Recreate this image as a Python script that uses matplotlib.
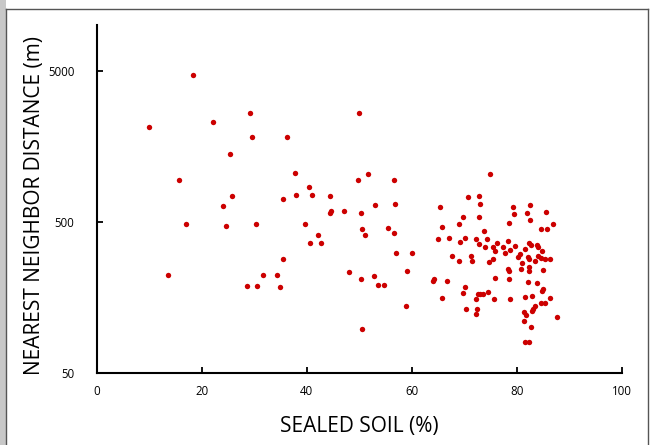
import numpy as np
import matplotlib
matplotlib.use('Agg')
import matplotlib.pyplot as plt
from matplotlib.lines import Line2D
from matplotlib.patches import Rectangle

# values: sealed soil (%) and nearest neighbour distance (m)
sealed = [10.0, 18.3, 22.2, 29.2, 29.5, 36.3, 25.4, 15.6, 37.7, 25.8,
          37.9, 35.4, 24.1, 17.1, 24.6, 30.4, 35.4, 13.6, 31.6, 34.4,
          28.6, 30.6, 34.9,
          50.0, 51.7, 49.7, 56.7, 40.4, 41.1, 44.4, 44.6, 44.5, 47.2,
          50.3, 53.1, 56.9, 39.6, 42.1, 50.6, 51.2, 55.5, 56.6, 40.7,
          42.8, 57.0, 60.1, 48.1, 50.3, 52.8, 53.5, 54.8, 59.2, 58.9,
          50.6,
          65.3, 65.8, 65.0, 67.2, 67.6, 69.1, 64.2, 64.0, 66.8, 65.8,
          69.1, 69.7, 70.7, 72.8, 73.1, 72.8, 74.9, 70.2, 69.2, 72.2,
          72.8, 73.8, 74.3, 73.9, 76.3, 75.4, 75.8, 77.4, 78.4, 77.8,
          78.8, 79.6, 78.6, 79.3, 79.4, 82.5, 82.0, 82.5, 85.5, 86.9,
          84.6, 85.8, 81.6, 82.3, 82.7, 83.9, 84.1, 84.8, 80.7, 80.3,
          82.2, 82.3, 84.0, 83.5, 84.7, 85.4, 86.3, 81.0, 71.3, 71.4,
          75.5, 74.7, 78.4, 78.6, 80.8, 82.4, 82.3, 85.1, 75.9, 78.6,
          82.2, 83.9, 70.1, 69.8, 72.7, 73.1, 73.5, 74.5, 72.2, 75.7,
          78.8, 81.6, 83.0, 85.0, 84.8, 86.4, 84.7, 85.4, 70.4, 72.5,
          72.3, 83.4, 83.2, 82.9, 81.3, 81.8, 87.6, 81.3, 82.7, 81.5,
          82.3]
distance = [2130, 4660, 2275, 2610, 1822, 1822, 1406, 945, 1056, 741,
            753, 705, 633, 481, 471, 481, 285, 223, 222, 222,
            188, 188, 184,
            2610, 1040, 949, 947, 850, 752, 737, 592, 572, 592,
            572, 646, 656, 484, 411, 450, 411, 457, 422, 361,
            361, 312, 312, 232, 210, 220, 190, 190, 238, 139,
            98,
            625, 462, 385, 389, 296, 277, 209, 202, 202, 156,
            480, 536, 726, 741, 653, 537, 1035, 389, 369, 383,
            355, 435, 385, 342, 363, 338, 322, 340, 372, 312,
            326, 348, 489, 625, 567, 643, 572, 512, 578, 486,
            450, 446, 332, 362, 350, 353, 342, 319, 306, 294,
            294, 282, 295, 277, 286, 283, 283, 268, 296, 276,
            285, 270, 244, 235, 244, 253, 235, 239, 211, 210,
            201, 198, 185, 168, 167, 167, 167, 172, 155, 155,
            155, 160, 162, 181, 175, 156, 145, 145, 132, 133,
            122, 138, 132, 129, 126, 121, 118, 110, 101, 80,
            80]

xticks = [0, 20, 40, 60, 80, 100]
yticks = [50, 500, 5000]

plt.rcParams['font.family'] = ['Open Sans', 'DejaVu Sans']

fig = plt.figure(figsize=(6.52, 4.45), dpi=100)
ax = fig.add_axes([0.1483, 0.1618, 0.8052, 0.782])

ax.scatter(sealed, distance, s=15, color='#cc0000', linewidths=0, zorder=3)

ax.set_yscale('log')
ax.set_xlim(0, 100)
ax.set_ylim(50, 10000)
ax.set_xticks(xticks)
ax.set_xticklabels([str(t) for t in xticks])
ax.set_yticks(yticks)
ax.set_yticklabels([str(t) for t in yticks])
ax.yaxis.set_minor_locator(matplotlib.ticker.NullLocator())

ax.spines['top'].set_visible(False)
ax.spines['right'].set_visible(False)
for s in ['left', 'bottom']:
    ax.spines[s].set_linewidth(1.5)
    ax.spines[s].set_color('black')
ax.tick_params(direction='in', length=4, width=1.3, labelsize=8.3)
ax.tick_params(axis='x', pad=9)
ax.tick_params(axis='y', pad=16)

ax.set_xlabel('SEALED SOIL (%)', fontsize=15)
ax.set_ylabel('NEAREST NEIGHBOR DISTANCE (m)', fontsize=15)
ax.xaxis.set_label_coords(0.5, -0.125)
ax.yaxis.set_label_coords(-0.098, 0.48)

# screenshot frame around the chart
fig.patches.append(Rectangle((0, 0), 6 / 652, 1, transform=fig.transFigure,
                             facecolor='#c8c8c8', edgecolor='none'))
fig.lines.append(Line2D([6 / 652, 6 / 652], [0, 1 - 9 / 445], transform=fig.transFigure,
                        color='#555555', lw=1))
fig.lines.append(Line2D([6 / 652, 648 / 652], [1 - 9 / 445, 1 - 9 / 445],
                        transform=fig.transFigure, color='#555555', lw=1))
fig.lines.append(Line2D([648 / 652, 648 / 652], [0, 1 - 9 / 445], transform=fig.transFigure,
                        color='#555555', lw=1))

fig.savefig('out.png', dpi=100)
